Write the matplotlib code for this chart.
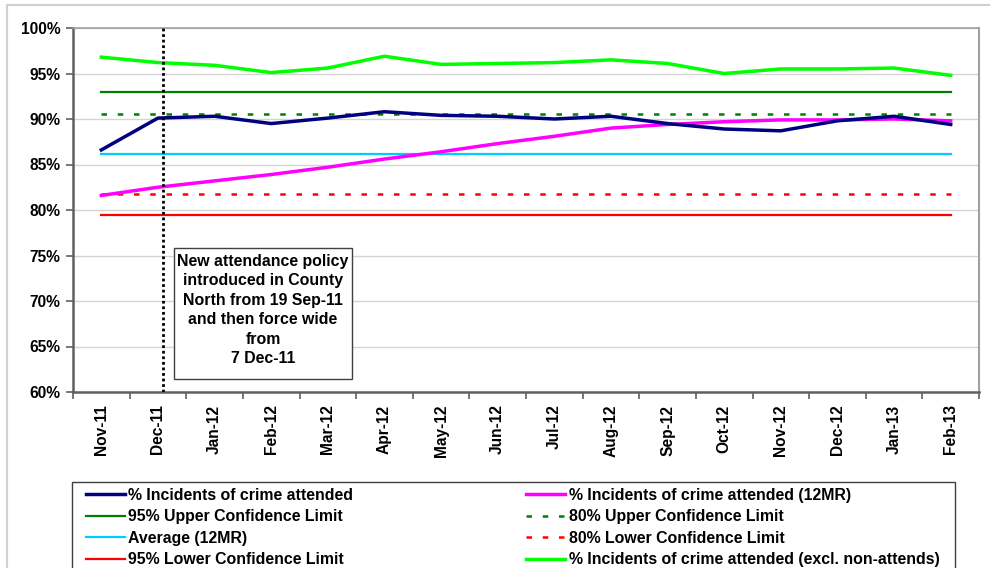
import matplotlib
matplotlib.use("Agg")
import matplotlib.pyplot as plt
from matplotlib.patches import Rectangle
from matplotlib.ticker import FixedLocator, PercentFormatter

plt.rcParams['font.family'] = ['Liberation Sans', 'DejaVu Sans']

months = ["Nov-11", "Dec-11", "Jan-12", "Feb-12", "Mar-12", "Apr-12", "May-12", "Jun-12",
          "Jul-12", "Aug-12", "Sep-12", "Oct-12", "Nov-12", "Dec-12", "Jan-13", "Feb-13"]

attended = [86.6, 90.1, 90.3, 89.5, 90.1, 90.8, 90.4, 90.3,
            90.0, 90.3, 89.5, 88.9, 88.7, 89.8, 90.3, 89.4]
attended_12mr = [81.6, 82.5, 83.2, 83.9, 84.7, 85.6, 86.4, 87.3,
                 88.1, 89.0, 89.4, 89.7, 89.9, 89.9, 90.0, 89.8]
attended_excl = [96.8, 96.2, 95.9, 95.1, 95.6, 96.9, 96.0, 96.1,
                 96.2, 96.5, 96.1, 95.0, 95.5, 95.5, 95.6, 94.8]
ucl95 = 93.0
ucl80 = 90.6
average_12mr = 86.2
lcl80 = 81.8
lcl95 = 79.4
policy_marker = 1.09  # position (in months from Nov-11) of the policy change line

annotation = ("New attendance policy\nintroduced in County\nNorth from 19 Sep-11\n"
              "and then force wide\nfrom\n7 Dec-11")

W, H = 990, 568
fig = plt.figure(figsize=(W / 100, H / 100), dpi=100)
ax = fig.add_axes([73 / W, 1 - 392 / H, (979 - 73) / W, (392 - 28) / H])

x = list(range(len(months)))
n = len(months)

h_att, = ax.plot(x, attended, color="#000080", lw=2.5, zorder=6)
h_12, = ax.plot(x, attended_12mr, color="#FF00FF", lw=2.5, zorder=5)
h_u95, = ax.plot(x, [ucl95] * n, color="#008000", lw=1.6, zorder=3)
h_u80, = ax.plot(x, [ucl80] * n, color="#008000", lw=1.8, dashes=[2.2, 4.3], zorder=3)
h_avg, = ax.plot(x, [average_12mr] * n, color="#00CCFF", lw=1.6, zorder=3)
h_l80, = ax.plot(x, [lcl80] * n, color="#FF0000", lw=1.8, dashes=[2.2, 4.3], zorder=3)
h_l95, = ax.plot(x, [lcl95] * n, color="#FF0000", lw=1.6, zorder=3)
h_exc, = ax.plot(x, attended_excl, color="#00FF00", lw=2.5, zorder=5)

ax.axvline(policy_marker, color="black", lw=2.0, ls=(0, (1, 1)), zorder=7)

ax.set_xlim(-0.5, n - 0.5)
ax.set_ylim(60, 100)
ax.yaxis.set_major_locator(FixedLocator(list(range(60, 101, 5))))
ax.yaxis.set_major_formatter(PercentFormatter(decimals=0))
ax.grid(axis="y", color="#D4D4D4", lw=1.0, zorder=0)
ax.set_axisbelow(True)

ax.set_xticks(x)
ax.set_xticklabels(months, rotation=90, fontweight="bold", fontsize=11.2)
ax.set_xticks([i - 0.5 for i in range(n + 1)], minor=True)
ax.tick_params(axis="x", which="major", length=0, pad=9)
ax.tick_params(axis="x", which="minor", length=5, width=1.2, color="#606060", direction="out")
ax.tick_params(axis="y", length=5, width=1.2, color="#606060", direction="out", pad=4)
for lbl in ax.get_yticklabels():
    lbl.set_fontweight("bold")
    lbl.set_fontsize(11.2)

ax.spines["left"].set_color("#606060")
ax.spines["left"].set_linewidth(1.8)
ax.spines["bottom"].set_color("#606060")
ax.spines["bottom"].set_linewidth(1.8)
ax.spines["top"].set_color("#A0A0A0")
ax.spines["top"].set_linewidth(1.2)
ax.spines["right"].set_color("#A0A0A0")
ax.spines["right"].set_linewidth(1.5)

# annotation box
fig.patches.append(Rectangle((174 / W, 1 - 379 / H), (352 - 174) / W, (379 - 248) / H,
                             transform=fig.transFigure, fc="white", ec="#404040", lw=1.0,
                             zorder=8))
fig.text(263 / W, 1 - 310 / H, annotation, ha="center", va="center", fontsize=11.4,
         fontweight="bold", linespacing=1.38, zorder=9)

# outer chart border
fig.patches.append(Rectangle((7 / W, -0.2), 1.2, 1.2 - 5 / H, transform=fig.transFigure,
                             fill=False, ec="#D0D0D0", lw=1.5))
# legend frame
fig.patches.append(Rectangle((72 / W, -0.1), (955 - 72) / W, 0.1 + 1 - 482 / H,
                             transform=fig.transFigure, fill=False, ec="#404040", lw=1.0))

handles = [h_att, h_u95, h_avg, h_l95, h_12, h_u80, h_l80, h_exc]
labels = ["% Incidents of crime attended", "95% Upper Confidence Limit", "Average (12MR)",
          "95% Lower Confidence Limit", "% Incidents of crime attended (12MR)",
          "80% Upper Confidence Limit", "80% Lower Confidence Limit",
          "% Incidents of crime attended (excl. non-attends)"]
leg = fig.legend(handles, labels, ncol=2, loc="upper left",
                 bbox_to_anchor=(80 / W, 1 - 482 / H), frameon=False,
                 prop=dict(weight="bold", size=11.4),
                 handlelength=2.5, handletextpad=0.2, columnspacing=10.9, labelspacing=0.42,
                 borderpad=0.35, borderaxespad=0)

fig.savefig("out.png", dpi=100)
